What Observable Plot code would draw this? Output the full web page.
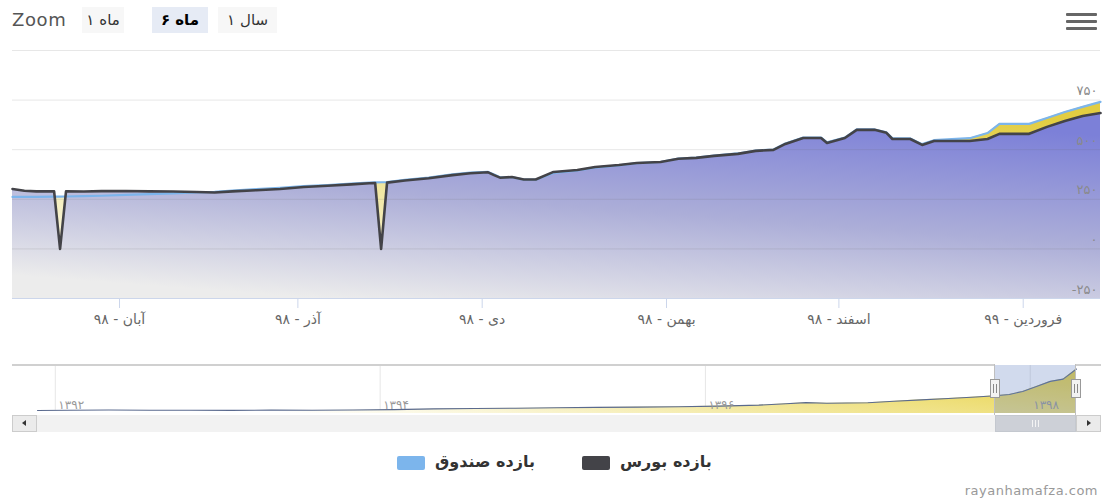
<!DOCTYPE html>
<html><head><meta charset="utf-8">
<script src="https://cdn.jsdelivr.net/npm/d3@7"></script>
<script src="https://cdn.jsdelivr.net/npm/@observablehq/plot@0.6"></script>
<style>
html,body{margin:0;padding:0;background:#fff;}
#root{position:relative;width:1106px;height:499px;overflow:hidden;font-family:"DejaVu Sans",sans-serif;}
.a{position:absolute;box-sizing:border-box;}
#main svg [aria-label="x-axis tick"]{stroke:#ccd6eb;}
#main svg [aria-label="x-axis"] line{stroke:#ccd6eb;}
#main svg [aria-label="x-axis tick label"], #main svg [aria-label="x-axis"] text{fill:#666;}
.btn{position:absolute;top:7px;height:26px;background:#f7f7f7;font-size:15px;color:#333;display:flex;flex-direction:row;align-items:center;justify-content:center;direction:ltr;}
.btn span{display:inline-block;}
.btn.sel{background:#e6ebf5;font-weight:bold;color:#000;}
</style></head>
<body><div id="root">
<div id="main" class="a" style="left:0;top:0"></div>
<div id="nav" class="a" style="left:0;top:355px"></div>
</div>
<script>
// ---------- data ----------
const mainDates = [
 "2019-10-14","2019-10-16","2019-10-18","2019-10-21","2019-10-22","2019-10-23","2019-10-26","2019-10-29",
 "2019-11-02","2019-11-06","2019-11-10","2019-11-14","2019-11-17","2019-11-20","2019-11-24","2019-11-28",
 "2019-12-02","2019-12-06","2019-12-10","2019-12-13","2019-12-14","2019-12-15","2019-12-16","2019-12-19","2019-12-23","2019-12-27","2019-12-30",
 "2020-01-02","2020-01-03","2020-01-04","2020-01-06","2020-01-08","2020-01-10","2020-01-13","2020-01-17","2020-01-20","2020-01-24","2020-01-27","2020-01-31",
 "2020-02-03","2020-02-06","2020-02-09","2020-02-13","2020-02-16","2020-02-19","2020-02-21","2020-02-24","2020-02-27","2020-02-28",
 "2020-03-02","2020-03-04","2020-03-07","2020-03-09","2020-03-10","2020-03-13","2020-03-15","2020-03-17","2020-03-23","2020-03-26","2020-03-28",
 "2020-04-02","2020-04-05","2020-04-08","2020-04-11","2020-04-14"];
const fundValues = [
 262,262,262,263,263,264,266,268,
 272,276,280,285,287,294,301,308,
 316,322,329,334,335,336,337,348,360,376,384,
 388,375,361,362,349,349,383,395,410,421,432,438,
 455,460,470,481,496,501,531,561,561,537,
 561,602,602,587,557,557,528,548,558,584,630,
 630,660,690,716,741];
const marketValues = [
 302,293,290,290,0,290,289,291,
 292,290,289,287,284,290,296,302,
 312,318,325,331,332,0,334,345,356,372,381,
 386,372,359,362,350,350,388,398,413,423,433,438,
 454,459,469,479,494,499,529,559,559,534,
 559,600,600,585,554,554,524,544,544,554,580,
 580,615,645,670,685];
const seriesNames = ["بازده صندوق", "بازده بورس"];
const seriesColors = ["#7cb5ec", "#434348"];
const yTicks = [-250, 0, 250, 500, 750, 1000];
const yTickLabels = ["-۲۵۰", "۰", "۲۵۰", "۵۰۰", "۷۵۰", ""];
const xTickDates = ["2019-11-01","2019-12-01","2020-01-01","2020-02-01","2020-03-01","2020-04-01"];
const xTickLabels = ["آبان - ۹۸","آذر - ۹۸","دی - ۹۸","بهمن - ۹۸","اسفند - ۹۸","فروردین - ۹۹"];
const viewStart = "2019-10-14", viewEnd = "2020-04-14";
const navStart = "2013-11-22";
const navDates = ["2013-11-22","2014-02-01","2014-05-01","2014-08-01","2014-11-01","2015-02-01","2015-05-01","2015-08-01","2015-11-01",
 "2016-02-01","2016-05-01","2016-08-01","2016-11-01","2017-02-01","2017-05-01","2017-08-01","2017-11-01",
 "2018-02-01","2018-05-01","2018-07-01","2018-08-15","2018-10-01","2019-01-01","2019-03-01","2019-05-01","2019-07-01","2019-09-01",
 "2019-10-14","2019-11-15","2019-12-15","2020-01-15","2020-02-15","2020-03-15","2020-04-14"];
const navFund = [0,3,8,5,3,2,6,5,8, 15,28,35,40,48,55,60,68, 78,95,120,140,128,138,165,190,215,240, 262,287,340,430,520,560,741];
const navTickDates = ["2014-01-01","2016-01-01","2018-01-01","2020-01-01"];
const navTickLabels = ["۱۳۹۲","۱۳۹۴","۱۳۹۶","۱۳۹۸"];
const rangeDigits = ["۱","۶","۱"];
const rangeWords = ["ماه","ماه","سال"];
const selectedRange = 1;
const creditText = "rayanhamafza.com";

// ---------- build ----------
const parse = d => new Date(d + "T00:00:00Z");
const rows = mainDates.map((d, i) => ({date: parse(d), fund: fundValues[i], market: marketValues[i]}));
const labelMap = new Map(xTickDates.map((d, i) => [+parse(d), xTickLabels[i]]));
const yLabelRows = yTicks.map((v, i) => ({date: parse(viewEnd), v, label: yTickLabels[i]}));

const main = Plot.plot({
  width: 1106, height: 340,
  marginTop: 50, marginBottom: 42, marginLeft: 12, marginRight: 6,
  style: {fontFamily: '"DejaVu Sans", sans-serif', fontSize: "14px", color: "#666", background: "transparent", overflow: "visible"},
  x: {type: "utc", domain: [parse(viewStart), parse(viewEnd)], ticks: xTickDates.map(parse),
      tickFormat: d => labelMap.get(+d) ?? "", tickSize: 10, tickPadding: 6, label: null},
  y: {domain: [-250, 1000], axis: null},
  marks: [
    Plot.areaY(rows, {x: "date", y1: -250, y2: "fund", fill: "url(#gFund)"}),
    Plot.areaY(rows, {x: "date", y1: -250, y2: "market", fill: "url(#gMarket)"}),
    Plot.ruleY(yTicks.filter(v => v > -250), {stroke: "#6b6b6b", strokeOpacity: 0.16}),
    Plot.ruleY([-250], {stroke: "#ccd6eb"}),
    Plot.line(rows, {x: "date", y: "fund", stroke: seriesColors[0], strokeWidth: 2.2, strokeLinejoin: "round"}),
    Plot.line(rows, {x: "date", y: "market", stroke: seriesColors[1], strokeWidth: 2.6, strokeLinejoin: "round"}),
    Plot.text(yLabelRows, {x: "date", y: "v", text: "label", textAnchor: "end", dx: -3, dy: -9, fill: "#8a8a8a", fontSize: 13})
  ]
});
main.insertAdjacentHTML("afterbegin", `<defs>
 <linearGradient id="gMarket" x1="0.72" y1="0" x2="0.28" y2="1">
  <stop offset="0" stop-color="#7c80d8"/><stop offset="0.5" stop-color="#acaed8"/><stop offset="1" stop-color="#ececec"/></linearGradient>
 <linearGradient id="gFund" x1="0.8" y1="0" x2="0.2" y2="1">
  <stop offset="0" stop-color="#e2cd42"/><stop offset="1" stop-color="#fdfdf6"/></linearGradient>
</defs>`);
document.getElementById("main").appendChild(main);

const navRows = navDates.map((d, i) => ({date: parse(d), v: navFund[i]}));
const navTicks = navTickDates.map((d, i) => ({date: parse(d), label: navTickLabels[i]}));
const nav = Plot.plot({
  width: 1106, height: 60,
  marginTop: 10, marginBottom: 2, marginLeft: 37, marginRight: 30,
  style: {fontFamily: '"DejaVu Sans", sans-serif', fontSize: "12px", background: "transparent", overflow: "visible"},
  x: {type: "utc", domain: [parse(navStart), parse(viewEnd)], axis: null},
  y: {domain: [-54, 804], axis: null},
  marks: [
    Plot.ruleX(navTicks, {x: "date", stroke: "#e6e6e6"}),
    Plot.areaY(navRows, {x: "date", y1: -54, y2: "v", fill: "url(#gNav)"}),
    Plot.line(navRows, {x: "date", y: "v", stroke: "#5a6a8e", strokeWidth: 1.1}),
    Plot.text(navTicks, {x: "date", y: -54, text: "label", textAnchor: "start", dx: 3, dy: -8, fill: "#999", fontSize: 12}),
    Plot.rect([{a: parse(viewStart), b: parse(viewEnd)}], {x1: "a", x2: "b", y1: -54, y2: 804, fill: "rgb(102,133,194)", fillOpacity: 0.3})
  ]
});
nav.insertAdjacentHTML("afterbegin", `<defs>
 <linearGradient id="gNav" x1="1" y1="0" x2="0" y2="0.4">
  <stop offset="0" stop-color="#e6cf3c"/><stop offset="0.55" stop-color="#f2e79a"/><stop offset="1" stop-color="#ffffff"/></linearGradient>
</defs>`);
document.getElementById("nav").appendChild(nav);

// ---------- chrome ----------
const root = document.getElementById("root");
function div(styles, html) {
  const e = document.createElement("div");
  e.className = "a";
  Object.assign(e.style, styles);
  if (html != null) e.innerHTML = html;
  root.appendChild(e);
  return e;
}
const sx = nav.scale("x");
const fx = sx.apply ? (d => sx.apply(d)) : d3.scaleUtc(sx.domain, sx.range);
const selL = fx(parse(viewStart)), selR = fx(parse(viewEnd));

// scrollbar
div({left: "12px", top: "415px", width: "1088px", height: "17px", background: "#f2f2f2"});
div({left: selL + "px", top: "415px", width: (selR - selL) + "px", height: "17px", background: "#cdd0d7", border: "1px solid #c4c8cf"});
const gx = (selL + selR) / 2;
[-3, 0, 3].forEach(o => div({left: (gx + o - 0.5) + "px", top: "420px", width: "1px", height: "7px", background: "#f4f4f4"}));
div({left: "12px", top: "415px", width: "25px", height: "17px", background: "#ebebeb", border: "1px solid #cccccc"});
div({left: "22px", top: "420px", width: "0", height: "0", borderTop: "3px solid transparent", borderBottom: "3px solid transparent", borderRight: "4px solid #333"});
div({left: "1076px", top: "415px", width: "25px", height: "17px", background: "#ebebeb", border: "1px solid #cccccc"});
div({left: "1087px", top: "420px", width: "0", height: "0", borderTop: "3px solid transparent", borderBottom: "3px solid transparent", borderLeft: "4px solid #333"});
// outline
div({left: "12px", top: "364px", width: (selL - 12) + "px", height: "2px", background: "#d0d0d0"});
div({left: selR + "px", top: "364px", width: (1101 - selR) + "px", height: "2px", background: "#d0d0d0"});
div({left: (selL - 1) + "px", top: "364px", width: "1px", height: "51px", background: "#bfbfbf"});
div({left: (selR - 1) + "px", top: "364px", width: "1px", height: "51px", background: "#bfbfbf"});
// handles
[selL, selR].forEach(x => {
  div({left: (x - 5) + "px", top: "379px", width: "10px", height: "19px", background: "#f2f2f2", border: "1px solid #999"});
  div({left: (x - 2) + "px", top: "384px", width: "1px", height: "9px", background: "#888"});
  div({left: (x + 1) + "px", top: "384px", width: "1px", height: "9px", background: "#888"});
});

// header
div({left: "12px", top: "8px", fontSize: "18px", color: "#555", letterSpacing: "0.6px", lineHeight: "24px"}, "Zoom");
const btnBox = [[82, 42], [152, 56], [218, 59]];
rangeDigits.forEach((dg, i) => {
  const b = document.createElement("div");
  b.className = "btn" + (i === selectedRange ? " sel" : "");
  b.style.left = btnBox[i][0] + "px";
  b.style.width = btnBox[i][1] + "px";
  b.innerHTML = `<span style="unicode-bidi:isolate">${dg}</span><span style="width:5px"></span><span style="unicode-bidi:isolate">${rangeWords[i]}</span>`;
  root.appendChild(b);
});
[13, 20, 27].forEach(y => div({left: "1066px", top: y + "px", width: "31px", height: "3px", background: "#666", borderRadius: "1px"}));

// legend
const legX = [[397, 435], [582, 620]];
seriesNames.forEach((n, i) => {
  div({left: legX[i][0] + "px", top: "456px", width: "28px", height: "14px", background: seriesColors[i], borderRadius: "2px"});
  div({left: legX[i][1] + "px", top: "451px", fontSize: "16px", fontWeight: "bold", color: "#333", lineHeight: "22px", whiteSpace: "nowrap"}, n);
});
// credits
div({right: "8px", top: "483px", fontSize: "13px", color: "#999", letterSpacing: "0.5px", whiteSpace: "nowrap"}, creditText);
</script></body></html>
